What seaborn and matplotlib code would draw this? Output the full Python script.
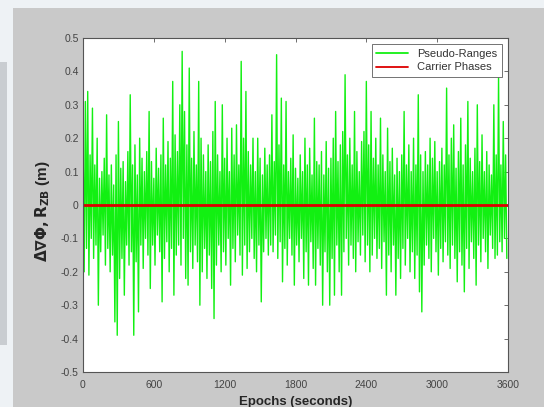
import matplotlib
matplotlib.use("Agg")
import matplotlib.pyplot as plt
from matplotlib.patches import Rectangle
import numpy as np
import pandas as pd
import seaborn as sns

# Pseudo-range DD residuals: upper peaks every 20 s
# (t = 0, 20, ...) and lower troughs in between (t = 10, 30, ...)
pr_up = [
    0.22, 0.31, 0.34, 0.15, 0.29, 0.12, 0.20, 0.08, 0.10, 0.14, 0.27, 0.09, 0.12, 0.06, 0.15, 0.25, 0.11, 0.13, 0.07, 0.16,
    0.33, 0.12, 0.18, 0.09, 0.20, 0.14, 0.10, 0.16, 0.28, 0.13, 0.08, 0.17, 0.11, 0.15, 0.26, 0.12, 0.19, 0.14, 0.37, 0.21,
    0.16, 0.30, 0.46, 0.28, 0.18, 0.41, 0.14, 0.22, 0.12, 0.37, 0.20, 0.15, 0.10, 0.18, 0.13, 0.22, 0.31, 0.15, 0.10, 0.30,
    0.14, 0.20, 0.10, 0.23, 0.15, 0.24, 0.12, 0.43, 0.20, 0.34, 0.16, 0.12, 0.20, 0.10, 0.20, 0.14, 0.09, 0.17, 0.12, 0.15,
    0.27, 0.13, 0.45, 0.18, 0.32, 0.12, 0.31, 0.10, 0.14, 0.21, 0.11, 0.08, 0.15, 0.10, 0.20, 0.12, 0.17, 0.09, 0.26, 0.13,
    0.12, 0.16, 0.09, 0.19, 0.11, 0.14, 0.20, 0.28, 0.13, 0.18, 0.22, 0.39, 0.15, 0.20, 0.12, 0.28, 0.16, 0.10, 0.19, 0.22,
    0.37, 0.18, 0.28, 0.14, 0.20, 0.12, 0.26, 0.15, 0.10, 0.23, 0.13, 0.17, 0.09, 0.14, 0.10, 0.15, 0.28, 0.12, 0.18, 0.10,
    0.20, 0.12, 0.33, 0.15, 0.10, 0.16, 0.12, 0.20, 0.14, 0.19, 0.10, 0.13, 0.17, 0.12, 0.35, 0.15, 0.20, 0.24, 0.11, 0.16,
    0.26, 0.12, 0.18, 0.31, 0.14, 0.10, 0.17, 0.30, 0.13, 0.21, 0.10, 0.16, 0.12, 0.09, 0.30, 0.15, 0.38, 0.12, 0.25, 0.15,
]
pr_dn = [
    -0.20, -0.13, -0.21, -0.10, -0.16, -0.12, -0.30, -0.14, -0.09, -0.18, -0.13, -0.20, -0.15, -0.35, -0.39, -0.22, -0.16, -0.27, -0.12, -0.18,
    -0.14, -0.39, -0.17, -0.32, -0.12, -0.19, -0.10, -0.15, -0.25, -0.12, -0.18, -0.09, -0.14, -0.29, -0.16, -0.11, -0.20, -0.13, -0.27, -0.15,
    -0.12, -0.18, -0.10, -0.22, -0.24, -0.14, -0.19, -0.12, -0.17, -0.30, -0.20, -0.13, -0.22, -0.15, -0.25, -0.34, -0.18, -0.12, -0.20, -0.14,
    -0.18, -0.10, -0.24, -0.13, -0.17, -0.09, -0.15, -0.21, -0.12, -0.19, -0.14, -0.10, -0.16, -0.20, -0.12, -0.29, -0.14, -0.10, -0.15, -0.12,
    -0.14, -0.09, -0.16, -0.11, -0.23, -0.13, -0.18, -0.10, -0.15, -0.24, -0.12, -0.17, -0.10, -0.22, -0.14, -0.24, -0.11, -0.19, -0.24, -0.13,
    -0.18, -0.30, -0.14, -0.20, -0.30, -0.16, -0.27, -0.12, -0.20, -0.27, -0.14, -0.10, -0.18, -0.12, -0.16, -0.20, -0.11, -0.15, -0.09, -0.17,
    -0.12, -0.20, -0.15, -0.10, -0.16, -0.13, -0.19, -0.11, -0.27, -0.15, -0.20, -0.12, -0.27, -0.16, -0.22, -0.13, -0.18, -0.10, -0.20, -0.14,
    -0.22, -0.15, -0.26, -0.32, -0.18, -0.12, -0.16, -0.20, -0.10, -0.14, -0.21, -0.13, -0.17, -0.11, -0.15, -0.19, -0.12, -0.16, -0.23, -0.14,
    -0.18, -0.26, -0.13, -0.19, -0.11, -0.16, -0.24, -0.12, -0.17, -0.10, -0.14, -0.19, -0.09, -0.13, -0.16, -0.15, -0.11, -0.14, -0.10, -0.16,
]
# carrier-phase residuals stay on zero
cp_t = [0, 3600]
cp_val = [0.0, 0.0]

x_ticks = [0, 600, 1200, 1800, 2400, 3000, 3600]
y_ticks = [-0.5, -0.4, -0.3, -0.2, -0.1, 0, 0.1, 0.2, 0.3, 0.4, 0.5]
y_ticklabels = ["-0.5", "-0.4", "-0.3", "-0.2", "-0.1", "0", "0.1", "0.2", "0.3", "0.4", "0.5"]

# interleave peaks and troughs into one epoch series
t_up = np.arange(len(pr_up)) * 20
t_dn = t_up + 10
pr_t = np.ravel(np.column_stack([t_up, t_dn]))
pr_val = np.ravel(np.column_stack([pr_up, pr_dn]))
df_pr = pd.DataFrame({"t": pr_t, "v": pr_val})
df_cp = pd.DataFrame({"t": cp_t, "v": cp_val})

sns.set_style("white")
plt.rcParams["font.family"] = ["Liberation Sans", "DejaVu Sans"]
plt.rcParams["axes.unicode_minus"] = False

fig = plt.figure(figsize=(5.44, 4.07), dpi=100)
fig.patch.set_facecolor("#eef2f5")
# grey MATLAB figure window area (behind the axes)
fig.patches.append(Rectangle((13 / 544, 0), 1, 1 - 8 / 407, transform=fig.transFigure,
                             facecolor="#c9c9c9", edgecolor="none", zorder=-2))
fig.patches.append(Rectangle((0, 62 / 407), 7 / 544, 283 / 407, transform=fig.transFigure,
                             facecolor="#c9cdd1", edgecolor="none", zorder=-2))

ax = fig.add_axes([83 / 544, 1 - 372 / 407, 425 / 544, 334 / 407])
ax.set_zorder(1)
ax.set_facecolor("white")

sns.lineplot(data=df_pr, x="t", y="v", ax=ax, color="#12f012", lw=1.0,
             estimator=None, sort=False, label="Pseudo-Ranges")
sns.lineplot(data=df_cp, x="t", y="v", ax=ax, color="#dd0000", lw=2.0,
             estimator=None, label="Carrier Phases")

ax.set_xlim(0, 3600)
ax.set_ylim(-0.5, 0.5)
ax.set_xticks(x_ticks)
ax.set_xticklabels([str(v) for v in x_ticks], fontsize=7.5, color="#444444")
ax.set_yticks(y_ticks)
ax.set_yticklabels(y_ticklabels, fontsize=7.5, color="#444444")
ax.tick_params(direction="in", length=3, width=0.6, top=True, right=True, color="#555555", pad=3)
ax.tick_params(axis="x", pad=6)
for s in ax.spines.values():
    s.set_color("#555555")
    s.set_linewidth(0.8)

ax.set_xlabel("Epochs (seconds)", fontsize=9.5, fontweight="bold", labelpad=4)
ax.set_ylabel(r"$\mathbf{\Delta\nabla\Phi,R_{ZB}}$ (m)", fontsize=11, fontweight="bold")
ax.yaxis.set_label_coords(-0.072, 0.48)

leg = ax.legend(loc="upper right", fontsize=8, frameon=True, fancybox=False,
                handlelength=2.9, handletextpad=0.8, borderpad=0.4, labelspacing=0.35,
                borderaxespad=0.55)
leg.get_frame().set_edgecolor("#333333")
leg.get_frame().set_linewidth(0.6)
for h in leg.get_lines():
    h.set_linewidth(1.3)
for txt in leg.get_texts():
    txt.set_color("#333333")

fig.savefig("out.png", dpi=100, facecolor=fig.get_facecolor())
plt.close(fig)
